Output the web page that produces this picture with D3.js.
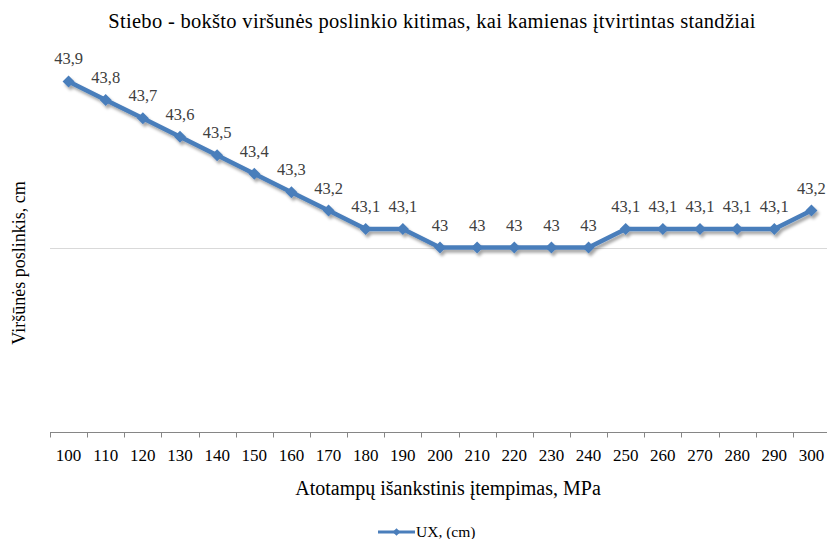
<!DOCTYPE html>
<html>
<head>
<meta charset="utf-8">
<script src="https://cdn.jsdelivr.net/npm/d3@7"></script>
<style>
  html, body { margin: 0; padding: 0; background: #fff; }
  svg { display: block; font-family: "Liberation Serif", "Times New Roman", serif; }
</style>
</head>
<body>
<svg id="chart" width="827" height="539"></svg>
<script>
// Pre-tension stress (MPa) and top displacement UX (cm)
const categories = ["100","110","120","130","140","150","160","170","180","190","200",
                    "210","220","230","240","250","260","270","280","290","300"];
const uxValues = [43.9, 43.8, 43.7, 43.6, 43.5, 43.4, 43.3, 43.2, 43.1, 43.1, 43,
                  43, 43, 43, 43, 43.1, 43.1, 43.1, 43.1, 43.1, 43.2];
const yDomain = [42, 44];
const gridValues = [43];

const titleText = "Stiebo - bokšto viršunės poslinkio kitimas, kai kamienas įtvirtintas standžiai";
const xTitle = "Atotampų išankstinis įtempimas, MPa";
const yTitle = "Viršūnės poslinkis, cm";
const seriesName = "UX, (cm)";

const svg = d3.select("#chart");
const plot = { left: 50, right: 830, top: 63, bottom: 432 };
const blue = "#4a7ebb";

const x = d3.scaleBand().domain(categories).range([plot.left, plot.right]).padding(0);
const y = d3.scaleLinear().domain(yDomain).range([plot.bottom, plot.top]);
const cx = c => x(c) + x.bandwidth() / 2;

// drop shadow for the series
const defs = svg.append("defs");
const f = defs.append("filter").attr("id", "shadow")
  .attr("x", "-10%").attr("y", "-10%").attr("width", "120%").attr("height", "130%");
f.append("feDropShadow").attr("dx", 2).attr("dy", 3).attr("stdDeviation", 1.6)
  .attr("flood-color", "#000").attr("flood-opacity", 0.35);

// title
svg.append("text").attr("x", 432).attr("y", 28).attr("text-anchor", "middle")
  .attr("font-size", 20.5).attr("letter-spacing", 0.3).attr("fill", "#000").text(titleText);

// gridlines
svg.append("g").selectAll("line").data(gridValues).join("line")
  .attr("x1", plot.left).attr("x2", 827)
  .attr("y1", d => Math.round(y(d)) + 0.5).attr("y2", d => Math.round(y(d)) + 0.5)
  .attr("stroke", "#d9d9d9").attr("stroke-width", 1);

// x axis with ticks between categories
const xAxis = svg.append("g").attr("transform", `translate(0,${plot.bottom + 0.5})`);
xAxis.append("line").attr("x1", plot.left).attr("x2", plot.right)
  .attr("stroke", "#868686").attr("stroke-width", 1);
xAxis.selectAll("line.tick").data(categories).join("line").attr("class", "tick")
  .attr("x1", d => Math.round(x(d)) + 0.5).attr("x2", d => Math.round(x(d)) + 0.5)
  .attr("y1", 0).attr("y2", 5).attr("stroke", "#868686");
xAxis.selectAll("text").data(categories).join("text")
  .attr("x", d => cx(d)).attr("y", 28).attr("text-anchor", "middle")
  .attr("font-size", 17).attr("fill", "#000").text(d => d);

// axis titles
svg.append("text").attr("x", 448).attr("y", 495).attr("text-anchor", "middle")
  .attr("font-size", 20).attr("fill", "#000").text(xTitle);
svg.append("text").attr("transform", "translate(25,263) rotate(-90)")
  .attr("text-anchor", "middle").attr("font-size", 18).attr("fill", "#000").text(yTitle);

// series line and markers
const data = categories.map((c, i) => ({ c, v: uxValues[i] }));
const series = svg.append("g").attr("filter", "url(#shadow)");
series.append("path").datum(data)
  .attr("d", d3.line().x(d => cx(d.c)).y(d => y(d.v)))
  .attr("fill", "none").attr("stroke", blue).attr("stroke-width", 4.5)
  .attr("stroke-linejoin", "round").attr("stroke-linecap", "round");
const diamond = d3.symbol().type(d3.symbolSquare).size(72);
series.selectAll("path.marker").data(data).join("path").attr("class", "marker")
  .attr("d", diamond)
  .attr("transform", d => `translate(${cx(d.c)},${y(d.v)}) rotate(45)`)
  .attr("fill", blue);

// value labels
const fmt = v => String(v).replace(".", ",");
svg.append("g").selectAll("text").data(data).join("text")
  .attr("x", d => cx(d.c)).attr("y", d => y(d.v) - 17)
  .attr("text-anchor", "middle").attr("font-size", 16.5).attr("fill", "#404040")
  .text(d => fmt(d.v));

// legend
const lg = svg.append("g").attr("transform", "translate(378,532)");
lg.append("line").attr("x1", 0).attr("x2", 37).attr("y1", 0).attr("y2", 0)
  .attr("stroke", blue).attr("stroke-width", 3);
lg.append("path").attr("d", d3.symbol().type(d3.symbolSquare).size(30))
  .attr("transform", "translate(18.5,0) rotate(45)").attr("fill", blue);
lg.append("text").attr("x", 38).attr("y", 5).attr("font-size", 15.5).attr("fill", "#000")
  .text(seriesName);
</script>
</body>
</html>
